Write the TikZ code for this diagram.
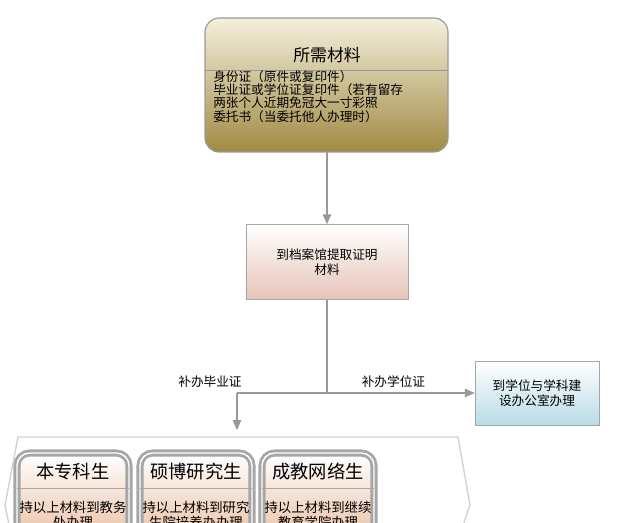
\documentclass[tikz,border=0pt]{standalone}
\usepackage{fontspec}
\setmainfont{Noto Sans CJK SC}
\usetikzlibrary{arrows.meta}
\tikzset{>=Triangle}
\definecolor{olive}{HTML}{A08A44}
\definecolor{cream}{HTML}{F4F0DC}
\definecolor{pinkb}{HTML}{E6C4B8}
\definecolor{blueb}{HTML}{B8DCE6}
\definecolor{cardb}{HTML}{E8B898}
\tikzstyle{material} = [draw=gray!80, line width=0.8pt, rounded corners=10pt, top color=cream, bottom color=olive]
\tikzstyle{process} = [draw=gray!70, top color=white, bottom color=pinkb, text centered, align=center, font=\fontsize{9}{11}\selectfont]
\tikzstyle{office} = [draw=gray!70, top color=white, bottom color=blueb, text centered, align=center, font=\fontsize{9}{11}\selectfont]
\tikzstyle{card} = [draw=gray!70, line width=2pt, double=white, double distance=1pt, rounded corners=9pt, top color=white, bottom color=cardb]
\tikzstyle{arrow} = [draw=gray!80, thick, ->, >={Triangle[width=6pt,length=7pt]}]
\tikzstyle{lbl} = [font=\fontsize{9}{11}\selectfont]
\begin{document}
\begin{tikzpicture}[x=0.025cm, y=-0.025cm]
\useasboundingbox (0,0) rectangle (640,523);

% materials
\draw[material] (205,18) rectangle (448,152);
\draw[gray!80] (205,70) -- (448,70);
\node (title) at (327,55) {\fontsize{12}{14}\selectfont 所需材料};
\node[anchor=north west, align=left, inner sep=0pt, font=\fontsize{9}{9.5}\selectfont] (list) at (213,70)
  {身份证（原件或复印件）\\毕业证或学位证复印件（若有留存\\两张个人近期免冠大一寸彩照\\委托书（当委托他人办理时）};
\coordinate (mat) at (327,152);

% archive
\node[process, minimum width=4.05cm, minimum height=1.875cm] (archive) at (327,262) {到档案馆提取证明\\材料};

% degree office
\node[office, minimum width=3.1cm, minimum height=1.6cm] (office) at (537,393) {到学位与学科建\\设办公室办理};

\coordinate (split) at (327,393);
\coordinate (left) at (237,393);
\coordinate (down) at (237,430);

\draw[arrow] (mat) -- (archive.north);
\draw[gray!80, thick] (archive.south) -- (split);
\draw[arrow] (split) -- node[lbl, above, pos=0.45] {补办学位证} (office.west);
\draw[gray!80, thick] (split) -- (left);
\draw[arrow] (left) -- (down);
\node[lbl] (lbldip) at (210,382) {补办毕业证};

% container
\draw[gray!35, line width=1pt] (5,505) -- (18,437) -- (458,437) -- (470,505) -- (458,540);
\draw[gray!35, line width=1pt] (5,505) -- (12,540);

% cards
\foreach \x/\n/\t/\b in {17/c1/本专科生/{持以上材料到教务\\处办理}, 140/c2/硕博研究生/{持以上材料到研究\\生院培养办办理}, 262/c3/成教网络生/{持以上材料到继续\\教育学院办理}}{
  \draw[card] (\x,453) rectangle ++(112,100);
  \draw[gray!70] (\x,488) -- ++(112,0);
  \node (\n) at (\x+56,472) {\fontsize{13}{15}\selectfont \t};
  \node[align=center, font=\fontsize{9.5}{11}\selectfont] (\n b) at (\x+56,515) {\b};
}
\end{tikzpicture}
\end{document}
